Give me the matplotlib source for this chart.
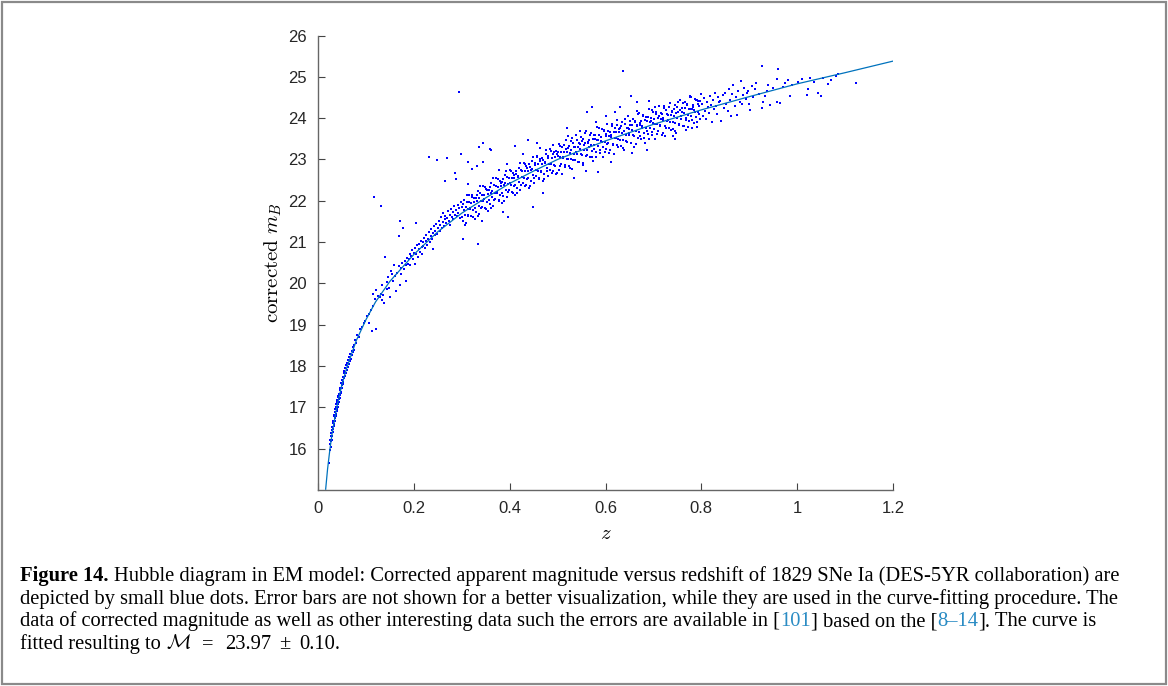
import numpy as np
import matplotlib
matplotlib.use('Agg')
import matplotlib.pyplot as plt
from matplotlib.patches import Rectangle

# fitted curve
z_fit = [0.016, 0.02, 0.025, 0.03, 0.04, 0.05, 0.06, 0.08, 0.1, 0.12, 0.15, 0.2, 0.25,
         0.3, 0.35, 0.4, 0.45, 0.5, 0.6, 0.7, 0.8, 0.9, 1.0, 1.1, 1.2]
m_fit = [15.02, 15.51, 16.0, 16.41, 17.05, 17.55, 17.96, 18.62, 19.12, 19.55, 20.05, 20.7, 21.25,
         21.7, 22.07, 22.42, 22.72, 23.0, 23.45, 23.85, 24.2, 24.52, 24.83, 25.1, 25.38]

# supernovae, low redshift
z_near = [0.023, 0.025, 0.026, 0.026, 0.027, 0.027, 0.028, 0.028, 0.029, 0.029,
          0.030, 0.030, 0.031, 0.031, 0.032, 0.032, 0.033, 0.033, 0.034, 0.034,
          0.035, 0.035, 0.036, 0.036, 0.037, 0.037, 0.038, 0.038, 0.039, 0.039,
          0.040, 0.040, 0.041, 0.041, 0.042, 0.042, 0.043, 0.043, 0.044, 0.045,
          0.045, 0.046, 0.046, 0.047, 0.048, 0.048, 0.049, 0.050, 0.050, 0.051,
          0.052, 0.052, 0.053, 0.054, 0.055, 0.055, 0.056, 0.057, 0.058, 0.059,
          0.060, 0.061, 0.062, 0.063, 0.064, 0.065, 0.066, 0.067, 0.068, 0.070,
          0.071, 0.072, 0.073, 0.075, 0.076, 0.078, 0.080, 0.082, 0.085, 0.088]
m_near = [15.65, 16.12, 15.98, 16.21, 16.30, 16.05, 16.18, 16.38, 16.45, 16.22,
          16.52, 16.31, 16.40, 16.62, 16.67, 16.47, 16.55, 16.78, 16.81, 16.60,
          16.88, 16.66, 16.74, 16.95, 17.01, 16.80, 16.85, 17.08, 17.12, 16.92,
          17.18, 16.97, 17.02, 17.25, 17.28, 17.07, 17.33, 17.12, 17.20, 17.42,
          17.22, 17.48, 17.29, 17.35, 17.58, 17.38, 17.46, 17.66, 17.47, 17.55,
          17.74, 17.57, 17.62, 17.83, 17.70, 17.88, 17.76, 17.95, 17.82, 18.02,
          17.90, 18.08, 17.98, 18.15, 18.04, 18.22, 18.12, 18.28, 18.17, 18.36,
          18.26, 18.45, 18.33, 18.52, 18.40, 18.62, 18.55, 18.74, 18.70, 18.90]

z_gap = [0.092, 0.095, 0.099, 0.103, 0.106, 0.107, 0.110, 0.112, 0.114, 0.115,
         0.117, 0.119, 0.121, 0.122, 0.125, 0.129, 0.131, 0.131, 0.133, 0.134,
         0.136, 0.138, 0.140, 0.143, 0.145, 0.147, 0.148, 0.150, 0.152, 0.155,
         0.157, 0.158, 0.160, 0.162]
m_gap = [18.95, 19.04, 19.10, 19.20, 19.04, 19.27, 19.35, 18.85, 19.75, 19.45,
         22.10, 19.62, 18.90, 19.85, 19.70, 19.67, 21.88, 19.75, 19.59, 19.95,
         19.72, 19.53, 20.65, 20.04, 19.86, 20.15, 19.88, 19.68, 20.31, 20.22,
         20.07, 20.45, 20.18, 19.81]

z_low = [0.165, 0.168, 0.170, 0.171, 0.171, 0.173, 0.174, 0.176, 0.178, 0.179,
         0.181, 0.183, 0.184, 0.186, 0.188, 0.190, 0.192, 0.193, 0.195, 0.197,
         0.199, 0.200, 0.202, 0.203, 0.204, 0.205, 0.207, 0.208, 0.210, 0.211,
         0.213, 0.214, 0.216, 0.217, 0.219, 0.220, 0.222, 0.223, 0.225, 0.226,
         0.228, 0.229, 0.231, 0.232, 0.233, 0.235, 0.236, 0.238, 0.239, 0.241,
         0.242, 0.244, 0.245, 0.247, 0.248, 0.249, 0.251, 0.252, 0.254, 0.255,
         0.257, 0.258, 0.260, 0.261, 0.263, 0.264, 0.265, 0.266, 0.268, 0.269,
         0.270, 0.272, 0.273, 0.275, 0.276, 0.278, 0.279, 0.281, 0.282, 0.284,
         0.285, 0.286, 0.288, 0.289, 0.290, 0.292, 0.293, 0.294, 0.295, 0.297,
         0.298, 0.299]
m_low = [20.25, 20.42, 21.14, 21.51, 19.95, 20.38, 20.22, 20.50, 21.33, 20.35,
         20.55, 20.44, 20.05, 20.62, 20.48, 20.58, 20.71, 20.45, 20.66, 20.80,
         20.58, 20.74, 20.47, 20.85, 21.46, 20.70, 20.92, 20.64, 20.83, 20.96,
         20.75, 21.03, 20.88, 20.70, 21.00, 20.91, 21.10, 20.85, 21.02, 21.18,
         20.94, 21.08, 21.25, 23.05, 21.00, 21.15, 21.32, 21.08, 21.22, 20.83,
         21.38, 21.16, 21.28, 21.44, 22.98, 21.20, 21.35, 21.52, 21.27, 21.41,
         21.60, 21.33, 21.48, 21.70, 21.38, 21.55, 22.48, 21.64, 21.45, 23.04,
         21.58, 21.75, 21.50, 21.66, 21.42, 21.80, 21.60, 21.72, 21.55, 21.88,
         22.68, 21.66, 21.78, 22.52, 21.62, 21.90, 21.70, 24.64, 21.83, 21.58,
         23.14, 21.96]

z_mid = [0.300, 0.302, 0.304, 0.305, 0.307, 0.309, 0.310, 0.312, 0.314, 0.315,
         0.317, 0.319, 0.320, 0.322, 0.324, 0.325, 0.327, 0.329, 0.330, 0.332,
         0.334, 0.335, 0.337, 0.339, 0.340, 0.342, 0.344, 0.345, 0.347, 0.349,
         0.350, 0.352, 0.354, 0.355, 0.357, 0.359, 0.360, 0.362, 0.364, 0.365,
         0.367, 0.369, 0.370, 0.372, 0.374, 0.375, 0.377, 0.379, 0.380, 0.382,
         0.384, 0.385, 0.387, 0.389, 0.390, 0.392, 0.394, 0.395, 0.397, 0.399,
         0.400, 0.402, 0.404, 0.405, 0.407, 0.409, 0.410, 0.412, 0.414, 0.415,
         0.417, 0.419, 0.420, 0.422, 0.424, 0.425, 0.427, 0.429, 0.430, 0.432,
         0.434, 0.435, 0.437, 0.439, 0.440, 0.442, 0.444, 0.445, 0.447, 0.449,
         0.450, 0.452, 0.454, 0.455, 0.457, 0.459, 0.460, 0.462, 0.464, 0.465,
         0.467, 0.469, 0.470, 0.472, 0.474, 0.475, 0.477, 0.479, 0.480, 0.482,
         0.484, 0.485, 0.487, 0.489, 0.490, 0.492, 0.494, 0.495, 0.497, 0.499]
m_mid = [21.84, 21.51, 21.78, 22.01, 21.66, 21.47, 21.97, 21.80, 21.65, 22.15,
         21.80, 21.95, 21.62, 22.09, 21.77, 21.97, 21.56, 22.06, 21.72, 21.99,
         22.23, 21.88, 21.68, 22.18, 22.00, 21.85, 22.36, 22.00, 22.15, 21.82,
         22.29, 21.96, 22.17, 21.76, 22.26, 21.92, 22.19, 22.42, 22.08, 21.88,
         22.38, 22.20, 22.05, 22.55, 22.19, 22.34, 22.01, 22.48, 22.15, 22.36,
         21.95, 22.45, 22.12, 22.39, 22.62, 22.27, 22.08, 22.58, 22.40, 22.25,
         22.75, 22.39, 22.54, 22.21, 22.68, 22.35, 22.55, 22.14, 22.64, 22.30,
         22.57, 22.80, 22.45, 22.25, 22.75, 22.57, 22.42, 22.92, 22.56, 22.71,
         22.38, 22.85, 22.52, 22.72, 22.31, 22.81, 22.47, 22.74, 22.97, 22.62,
         22.42, 22.92, 22.74, 22.59, 23.09, 22.73, 22.88, 22.55, 23.02, 22.69,
         22.89, 22.48, 22.98, 22.64, 22.91, 23.14, 22.79, 22.59, 23.08, 22.90,
         22.75, 23.25, 22.89, 23.04, 22.71, 23.18, 22.85, 23.05, 22.64, 23.14]

z_mid2 = [0.301, 0.303, 0.306, 0.308, 0.311, 0.313, 0.316, 0.318, 0.321, 0.323,
          0.326, 0.328, 0.331, 0.333, 0.336, 0.338, 0.341, 0.343, 0.346, 0.348,
          0.351, 0.353, 0.356, 0.358, 0.361, 0.363, 0.366, 0.368, 0.371, 0.373,
          0.376, 0.378, 0.381, 0.383, 0.386, 0.388, 0.391, 0.393, 0.396, 0.398,
          0.401, 0.403, 0.406, 0.408, 0.411, 0.413, 0.416, 0.418, 0.421, 0.423,
          0.426, 0.428, 0.431, 0.433, 0.436, 0.438, 0.441, 0.443, 0.446, 0.448,
          0.451, 0.453, 0.456, 0.458, 0.461, 0.463, 0.466, 0.468, 0.471, 0.473,
          0.476, 0.478, 0.481, 0.483, 0.486, 0.488, 0.491, 0.493, 0.496, 0.498]
m_mid2 = [21.61, 21.93, 21.42, 21.84, 22.15, 21.62, 21.96, 21.83, 22.15, 21.61,
          22.07, 21.82, 22.15, 21.62, 22.06, 22.35, 21.83, 22.15, 22.04, 22.34,
          21.81, 22.25, 22.02, 22.34, 21.82, 22.24, 22.55, 22.02, 22.35, 22.22,
          22.53, 21.99, 22.44, 22.19, 22.53, 22.00, 22.44, 22.73, 22.22, 22.54,
          22.42, 22.72, 22.19, 22.63, 22.39, 22.71, 22.19, 22.61, 22.91, 22.38,
          22.71, 22.58, 22.89, 22.35, 22.80, 22.55, 22.88, 22.35, 22.78, 23.07,
          22.55, 22.87, 22.75, 23.05, 22.52, 22.96, 22.72, 23.04, 22.52, 22.94,
          23.24, 22.71, 23.03, 22.90, 23.21, 22.67, 23.12, 22.87, 23.20, 22.67]

z_high = [0.500, 0.502, 0.504, 0.505, 0.507, 0.509, 0.510, 0.512, 0.514, 0.515,
          0.517, 0.519, 0.520, 0.522, 0.524, 0.525, 0.527, 0.529, 0.530, 0.532,
          0.534, 0.535, 0.537, 0.539, 0.540, 0.542, 0.544, 0.545, 0.547, 0.549,
          0.550, 0.552, 0.554, 0.555, 0.557, 0.559, 0.560, 0.562, 0.564, 0.565,
          0.567, 0.569, 0.570, 0.572, 0.574, 0.575, 0.577, 0.579, 0.580, 0.582,
          0.584, 0.585, 0.587, 0.589, 0.590, 0.592, 0.594, 0.595, 0.597, 0.599,
          0.600, 0.602, 0.604, 0.605, 0.607, 0.609, 0.610, 0.612, 0.614, 0.615,
          0.617, 0.619, 0.620, 0.622, 0.624, 0.625, 0.627, 0.629, 0.630, 0.632,
          0.634, 0.635, 0.637, 0.639, 0.640, 0.642, 0.644, 0.645, 0.647, 0.649,
          0.650, 0.652, 0.654, 0.655, 0.657, 0.659, 0.660, 0.662, 0.664, 0.665,
          0.667, 0.669, 0.670, 0.672, 0.674, 0.675, 0.677, 0.679, 0.680, 0.682,
          0.684, 0.685, 0.687, 0.689, 0.690, 0.692, 0.694, 0.695, 0.697, 0.699,
          0.700, 0.702, 0.704, 0.705, 0.707, 0.709, 0.710, 0.712, 0.714, 0.715,
          0.717, 0.719, 0.720, 0.722, 0.724, 0.725, 0.727, 0.729, 0.730, 0.732,
          0.734, 0.735, 0.737, 0.739, 0.740, 0.742, 0.744, 0.745, 0.747, 0.749,
          0.750, 0.752, 0.754, 0.755, 0.757, 0.759, 0.760, 0.762, 0.764, 0.765,
          0.767, 0.769, 0.770, 0.772, 0.774, 0.775, 0.777, 0.779, 0.780, 0.782,
          0.784, 0.785, 0.787, 0.789, 0.790, 0.792, 0.794, 0.795, 0.797, 0.799]
m_high = [23.18, 22.75, 23.06, 23.33, 22.90, 22.66, 23.29, 23.04, 23.19, 22.87,
          23.48, 23.02, 23.18, 23.28, 22.85, 23.16, 23.44, 23.01, 22.76, 23.39,
          23.14, 23.29, 22.98, 23.59, 23.12, 23.29, 23.39, 22.95, 23.26, 23.54,
          23.10, 22.86, 23.49, 23.24, 23.39, 23.08, 23.68, 23.22, 23.39, 23.48,
          23.05, 23.36, 23.63, 23.20, 22.96, 23.59, 23.34, 23.49, 23.17, 23.78,
          23.32, 23.48, 23.58, 23.15, 23.45, 23.73, 23.30, 23.05, 23.68, 23.43,
          23.57, 23.26, 23.87, 23.40, 23.57, 23.67, 23.23, 23.54, 23.82, 23.38,
          23.13, 23.77, 23.51, 23.66, 23.35, 23.95, 23.49, 23.66, 23.75, 23.32,
          23.63, 23.90, 23.47, 23.23, 23.85, 23.60, 23.75, 23.43, 24.04, 23.58,
          23.74, 23.84, 23.41, 23.71, 23.99, 23.56, 23.31, 23.94, 23.69, 23.83,
          23.52, 24.13, 23.66, 23.83, 23.93, 23.49, 23.80, 24.08, 23.64, 23.40,
          24.03, 23.77, 23.92, 23.61, 24.21, 23.75, 23.92, 24.01, 23.58, 23.89,
          24.16, 23.73, 23.49, 24.11, 23.86, 24.00, 23.68, 24.29, 23.83, 23.99,
          24.09, 23.65, 23.96, 24.24, 23.80, 23.56, 24.19, 23.93, 24.08, 23.77,
          24.37, 23.91, 24.08, 24.17, 23.74, 24.05, 24.32, 23.89, 23.64, 24.27,
          24.01, 24.16, 23.84, 24.45, 23.98, 24.15, 24.25, 23.81, 24.12, 24.39,
          23.95, 23.71, 24.34, 24.08, 24.23, 23.92, 24.52, 24.06, 24.22, 24.32,
          23.88, 24.19, 24.46, 24.03, 23.79, 24.41, 24.16, 24.30, 23.99, 24.59]

z_high2 = [0.501, 0.503, 0.506, 0.508, 0.511, 0.513, 0.516, 0.518, 0.521, 0.523,
           0.526, 0.528, 0.531, 0.533, 0.536, 0.538, 0.541, 0.543, 0.546, 0.548,
           0.551, 0.553, 0.556, 0.558, 0.561, 0.563, 0.566, 0.568, 0.571, 0.573,
           0.576, 0.578, 0.581, 0.583, 0.586, 0.588, 0.591, 0.593, 0.596, 0.598,
           0.601, 0.603, 0.606, 0.608, 0.611, 0.613, 0.616, 0.618, 0.621, 0.623,
           0.626, 0.628, 0.631, 0.633, 0.636, 0.638, 0.641, 0.643, 0.646, 0.648,
           0.651, 0.653, 0.656, 0.658, 0.661, 0.663, 0.666, 0.668, 0.671, 0.673,
           0.676, 0.678, 0.681, 0.683, 0.686, 0.688, 0.691, 0.693, 0.696, 0.698,
           0.701, 0.703, 0.706, 0.708, 0.711, 0.713, 0.716, 0.718, 0.721, 0.723,
           0.726, 0.728, 0.731, 0.733, 0.736, 0.738, 0.741, 0.743, 0.746, 0.748,
           0.751, 0.753, 0.756, 0.758, 0.761, 0.763, 0.766, 0.768, 0.771, 0.773,
           0.776, 0.778, 0.781, 0.783, 0.786, 0.788, 0.791, 0.793, 0.796, 0.798]
m_high2 = [23.09, 23.38, 22.85, 23.17, 23.05, 23.35, 22.81, 23.25, 23.00, 23.32,
           22.80, 23.22, 23.51, 22.98, 23.31, 23.18, 23.48, 22.94, 23.38, 23.13,
           23.45, 22.92, 23.35, 23.64, 23.11, 23.43, 23.30, 23.60, 23.06, 23.50,
           23.26, 23.58, 23.05, 23.47, 23.76, 23.23, 23.55, 23.42, 23.72, 23.18,
           23.62, 23.37, 23.69, 23.16, 23.58, 23.87, 23.34, 23.66, 23.53, 23.83,
           23.29, 23.73, 23.48, 23.80, 23.27, 23.69, 23.98, 23.45, 23.77, 23.64,
           23.94, 23.40, 23.84, 23.59, 23.91, 23.38, 23.80, 24.09, 23.56, 23.88,
           23.75, 24.05, 23.51, 23.95, 23.70, 24.02, 23.49, 23.91, 24.20, 23.67,
           23.99, 23.86, 24.16, 23.62, 24.05, 23.80, 24.12, 23.59, 24.01, 24.30,
           23.77, 24.09, 23.96, 24.26, 23.72, 24.16, 23.91, 24.23, 23.70, 24.12,
           24.40, 23.87, 24.19, 24.06, 24.36, 23.82, 24.25, 24.00, 24.32, 23.79,
           24.21, 24.50, 23.96, 24.28, 24.15, 24.45, 23.91, 24.35, 24.09, 24.41]

z_far = [0.802, 0.804, 0.806, 0.808, 0.810, 0.812, 0.814, 0.816, 0.818, 0.820,
         0.822, 0.824, 0.826, 0.828, 0.830, 0.832, 0.834, 0.836, 0.839, 0.842,
         0.845, 0.847, 0.849, 0.852, 0.855, 0.857, 0.860, 0.862, 0.865, 0.867,
         0.870, 0.872, 0.874, 0.877, 0.880, 0.882, 0.884, 0.887, 0.890, 0.893,
         0.896, 0.898, 0.899, 0.901, 0.905, 0.908, 0.912, 0.915, 0.920, 0.926,
         0.926, 0.929, 0.933, 0.936, 0.940, 0.943, 0.950, 0.957, 0.958, 0.959,
         0.964, 0.970, 0.975, 0.980, 0.985, 0.990, 1.002, 1.010, 1.020, 1.023,
         1.027, 1.035, 1.044, 1.049, 1.054, 1.065, 1.070, 1.082, 1.085, 1.123]
m_far = [24.35, 24.05, 24.48, 24.18, 23.98, 24.40, 24.28, 24.12, 24.53, 24.33,
         23.90, 24.45, 24.22, 24.62, 24.30, 24.10, 24.50, 24.38, 24.41, 23.94,
         24.55, 24.25, 24.61, 24.35, 24.18, 24.70, 24.45, 24.04, 24.58, 24.81,
         24.30, 24.50, 24.08, 24.66, 24.40, 24.91, 24.34, 24.55, 24.72, 24.46,
         24.60, 24.65, 24.35, 24.20, 24.78, 24.52, 24.70, 24.85, 24.58, 25.27,
         24.25, 24.39, 24.53, 24.65, 24.80, 24.33, 24.72, 24.39, 24.94, 25.19,
         24.37, 24.75, 24.85, 24.92, 24.53, 24.80, 24.87, 24.95, 24.57, 24.70,
         24.97, 24.88, 24.62, 24.54, 24.97, 24.82, 24.92, 25.02, 25.06, 24.86]

# points lying off the main band
z_off = [0.314, 0.331, 0.335, 0.344, 0.359, 0.362, 0.345, 0.378, 0.394, 0.439,
         0.456, 0.333, 0.449, 0.342, 0.387, 0.397, 0.302, 0.321, 0.314, 0.411,
         0.428, 0.463, 0.491, 0.522, 0.547, 0.470, 0.520, 0.561, 0.571, 0.581,
         0.620, 0.630, 0.637, 0.653, 0.665, 0.666, 0.703, 0.776, 0.790, 0.687,
         0.724, 0.740, 0.780, 0.585, 0.612, 0.535, 0.560, 0.655, 0.745, 0.600,
         0.690]
m_off = [22.94, 22.84, 23.31, 23.40, 23.26, 23.22, 22.93, 22.74, 22.88, 23.48,
         23.40, 20.95, 21.86, 21.51, 21.72, 21.61, 21.07, 22.76, 22.40, 23.32,
         23.12, 23.28, 23.36, 23.56, 23.68, 22.20, 23.75, 24.16, 24.28, 23.90,
         24.14, 24.26, 25.14, 24.54, 24.18, 24.40, 24.28, 24.53, 24.45, 23.24,
         23.56, 23.56, 23.76, 22.70, 22.95, 22.55, 22.72, 23.15, 23.50, 24.05,
         24.42]

x_ticks = [0, 0.2, 0.4, 0.6, 0.8, 1.0, 1.2]
x_ticklabels = ['0', '0.2', '0.4', '0.6', '0.8', '1', '1.2']
y_ticks = list(range(16, 27))

z_all = np.concatenate([z_near, z_gap, z_low, z_mid, z_mid2, z_high, z_high2, z_far, z_off])
m_all = np.concatenate([m_near, m_gap, m_low, m_mid, m_mid2, m_high, m_high2, m_far, m_off])

plt.rcParams['mathtext.fontset'] = 'cm'

W, H = 1168, 686
fig = plt.figure(figsize=(W / 100, H / 100), dpi=100)
ax = fig.add_axes([318 / W, 1 - 490 / H, 575 / W, 454.5 / H])

ax.plot(z_all, m_all, 's', ms=2.0, mew=0, color='#0000ff', zorder=2)
ax.plot(z_fit, m_fit, color='#0072BD', lw=0.9, zorder=3)

ax.set_xlim(0, 1.2)
ax.set_ylim(15, 26)
ax.set_xticks(x_ticks)
ax.set_xticklabels(x_ticklabels)
ax.set_yticks(y_ticks)
for s in ['top', 'right']:
    ax.spines[s].set_visible(False)
for s in ['left', 'bottom']:
    ax.spines[s].set_color('#666666')
    ax.spines[s].set_linewidth(1.0)
ax.tick_params(direction='in', length=5, width=0.8, color='#444444',
               labelsize=12, labelcolor='#262626', pad=8)
for lab in ax.get_xticklabels() + ax.get_yticklabels():
    lab.set_fontfamily('Liberation Sans')

ax.set_xlabel(r'$z$', fontsize=15, labelpad=5)
ax.set_ylabel(r'$\mathrm{corrected}\ m_B$', fontsize=15, labelpad=3)

# frame around the whole figure
fig.patches.append(Rectangle((2 / W, 2 / H), (W - 4) / W, (H - 4) / H,
                             transform=fig.transFigure, fill=False,
                             ec='#8a8a8a', lw=1.6))

# caption
cap_fs = 14.8
sp = 0.25 * cap_fs * 100 / 72
link = '#2b8cc4'
renderer = fig.canvas.get_renderer()


def caption_line(y, parts):
    x = 20
    for part in parts:
        if isinstance(part, (int, float)):
            x += part * sp
            continue
        txt, kw = part
        t = fig.text(x / W, 1 - y / H, txt, fontsize=cap_fs,
                     family='Liberation Serif', va='baseline', ha='left', **kw)
        x += t.get_window_extent(renderer).width


caption_line(581, [('Figure 14.', {'weight': 'bold'}), 1,
                   ('Hubble diagram in EM model: Corrected apparent magnitude versus redshift '
                    'of 1829 SNe Ia (DES-5YR collaboration) are', {})])
caption_line(604, [('depicted by small blue dots. Error bars are not shown for a better '
                    'visualization, while they are used in the curve-fitting procedure. The', {})])
caption_line(626, [('data of corrected magnitude as well as other interesting data such the '
                    'errors are available in [', {}),
                   ('101', {'color': link}), ('] based on the [', {}),
                   ('8\u201314', {'color': link}), ('].', {}), 1, ('The curve is', {})])
caption_line(649, [('fitted resulting to', {}), 1, (r'$\mathcal{M}$', {}), 2.2,
                   ('=', {}), 2.2, ('23.97', {}), 1.6, ('\u00b1', {}), 1.6, ('0.10.', {})])

fig.savefig('out.png', dpi=100)
